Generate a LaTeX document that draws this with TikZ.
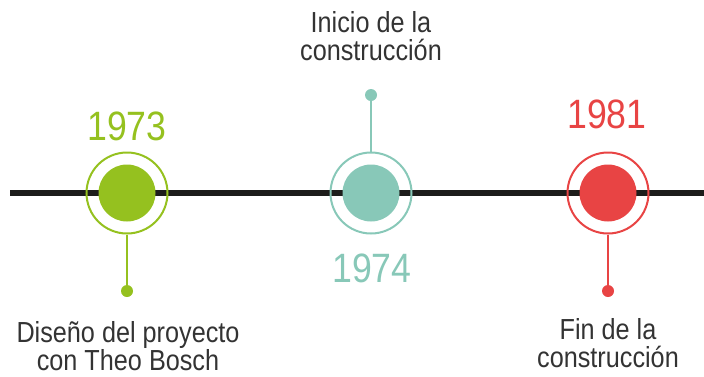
\documentclass[tikz,border=0pt]{standalone}
\usepackage{fontspec}
\setmainfont{Liberation Sans}[FakeStretch=0.87]
\definecolor{cgreen}{HTML}{95C11F}
\definecolor{cteal}{HTML}{88C8B8}
\definecolor{cred}{HTML}{E84444}
\definecolor{ctext}{HTML}{333333}
\definecolor{cline}{HTML}{1D1D1B}
\tikzset{
  ring/.style={circle, draw=#1, line width=2pt, minimum size=81pt, inner sep=0pt},
  disc/.style={circle, fill=#1, minimum size=57pt, inner sep=0pt},
  tipdot/.style={circle, fill=#1, minimum size=12pt, inner sep=0pt},
  stem/.style={draw=#1, line width=2pt},
  year/.style={text=#1, font=\fontsize{41}{41}\selectfont, anchor=base, inner sep=0pt},
  label/.style={text=ctext, font=\fontsize{29}{28}\selectfont, align=center, anchor=base, inner sep=0pt},
  axis/.style={draw=cline, line width=5.5pt}
}
\begin{document}
\begin{tikzpicture}[x=1pt,y=-1pt]
\useasboundingbox (0,0) rectangle (704,376);
\coordinate (L) at (10,193);
\coordinate (R) at (704,193);
\draw[axis] (L) -- (R);
% 1973
\node[ring=cgreen] (r1) at (127,193) {};
\node[disc=cgreen] (d1) at (127,193) {};
\node[tipdot=cgreen] (p1) at (127,291) {};
\draw[stem=cgreen] (r1.south) -- (p1.center);
\node[year=cgreen] (y1) at (127,140) {1973};
\node[label] (t1) at (128,370) {Diseño del proyecto\\con Theo Bosch};
% 1974
\node[ring=cteal] (r2) at (371,193) {};
\node[disc=cteal] (d2) at (371,193) {};
\node[tipdot=cteal] (p2) at (371,95) {};
\draw[stem=cteal] (r2.north) -- (p2.center);
\node[year=cteal] (y2) at (372,282) {1974};
\node[label] (t2) at (371,60) {Inicio de la\\construcción};
% 1981
\node[ring=cred] (r3) at (608,193) {};
\node[disc=cred] (d3) at (608,193) {};
\node[tipdot=cred] (p3) at (608,291) {};
\draw[stem=cred] (r3.south) -- (p3.center);
\node[year=cred] (y3) at (607,128) {1981};
\node[label] (t3) at (608,367) {Fin de la\\construcción};
\end{tikzpicture}
\end{document}
